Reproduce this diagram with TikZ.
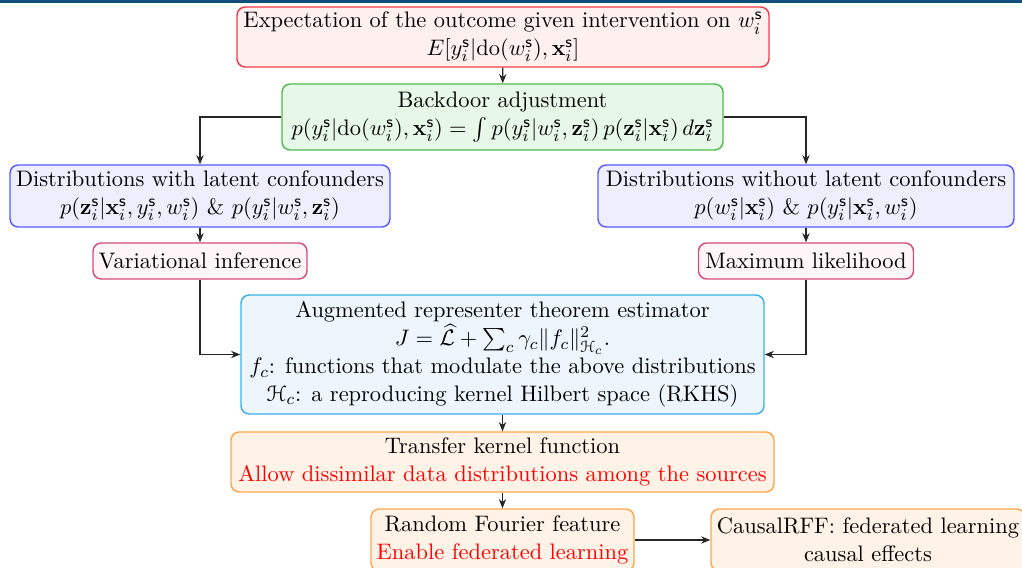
\documentclass[tikz,border=0pt]{standalone}
\usepackage{amsmath,amssymb}
\usepackage[mathscr]{eucal}
\usetikzlibrary{arrows.meta}
\definecolor{barblue}{HTML}{0E4F7B}
\definecolor{redE}{HTML}{EE3B45}
\definecolor{redF}{HTML}{FFF0F0}
\definecolor{greenE}{HTML}{4CBB4C}
\definecolor{greenF}{HTML}{E8F8E8}
\definecolor{blueE}{HTML}{5A5AF5}
\definecolor{blueF}{HTML}{EEEEFD}
\definecolor{purpE}{HTML}{D24D79}
\definecolor{purpF}{HTML}{FDF5F8}
\definecolor{cyanE}{HTML}{3AB0E6}
\definecolor{cyanF}{HTML}{EEF6FD}
\definecolor{orE}{HTML}{FFA64D}
\definecolor{orF}{HTML}{FFF2E6}
\newcommand\srcs{\mathsf{s}}
\begin{document}
\begin{tikzpicture}[x=0.488pt,y=-0.488pt,
  box/.style={rounded corners=4pt, line width=0.7pt, align=center, inner sep=0pt,
    font=\fontsize{10.95}{13.6}\selectfont},
  conn/.style={line width=0.55pt, black!85, -{Stealth[length=4.5pt,width=3.6pt]}}]
\useasboundingbox (0,0) rectangle (1022,568);
\clip (0,0) rectangle (1022,568);
\fill[barblue] (0,0) rectangle (1022,3);

\node[box, draw=redE, fill=redF, minimum width=532*0.488pt, minimum height=60*0.488pt] (b1) at (503,37)
  {Expectation of the outcome given intervention on $w_i^{\srcs}$\\ $E[y_i^{\srcs}|\mathrm{do}(w_i^{\srcs}),\mathbf{x}_i^{\srcs}]$};
\node[box, draw=greenE, fill=greenF, minimum width=441*0.488pt, minimum height=66*0.488pt] (b2) at (502.5,117)
  {Backdoor adjustment\\ $p(y_i^{\srcs}|\mathrm{do}(w_i^{\srcs}),\mathbf{x}_i^{\srcs}) = \int p(y_i^{\srcs}|w_i^{\srcs},\mathbf{z}_i^{\srcs})\, p(\mathbf{z}_i^{\srcs}|\mathbf{x}_i^{\srcs})\, d\mathbf{z}_i^{\srcs}$};
\node[box, draw=blueE, fill=blueF, minimum width=380*0.488pt, minimum height=62*0.488pt] (b3) at (200,196)
  {Distributions with latent confounders\\ $p(\mathbf{z}_i^{\srcs}|\mathbf{x}_i^{\srcs},y_i^{\srcs},w_i^{\srcs})$ \& $p(y_i^{\srcs}|w_i^{\srcs},\mathbf{z}_i^{\srcs})$};
\node[box, draw=blueE, fill=blueF, minimum width=416*0.488pt, minimum height=62*0.488pt] (b4) at (806,196)
  {Distributions without latent confounders\\ $p(w_i^{\srcs}|\mathbf{x}_i^{\srcs})$ \& $p(y_i^{\srcs}|\mathbf{x}_i^{\srcs},w_i^{\srcs})$};
\node[box, draw=purpE, fill=purpF, minimum width=214*0.488pt, minimum height=36*0.488pt] (b5) at (200,261)
  {Variational inference};
\node[box, draw=purpE, fill=purpF, minimum width=215*0.488pt, minimum height=36*0.488pt] (b6) at (806,261)
  {Maximum likelihood};
\node[box, draw=cyanE, fill=cyanF, minimum width=523*0.488pt, minimum height=119*0.488pt] (b7) at (502.5,354.5)
  {Augmented representer theorem estimator\\ $J=\widehat{\mathcal{L}}+\sum_c\gamma_c\|f_c\|^2_{\mathscr{H}_c}.$\\ $f_c$: functions that modulate the above distributions\\ $\mathscr{H}_c$: a reproducing kernel Hilbert space (RKHS)};
\node[box, draw=orE, fill=orF, minimum width=543*0.488pt, minimum height=60*0.488pt] (b8) at (502.5,462)
  {Transfer kernel function\\ \textcolor{red}{Allow dissimilar data distributions among the sources}};
\node[box, draw=orE, fill=orF, minimum width=263*0.488pt, minimum height=62*0.488pt] (b9) at (502.5,540)
  {Random Fourier feature\\ \textcolor{red}{Enable federated learning}};
\node[box, draw=orE, fill=orF, minimum width=314*0.488pt, minimum height=62*0.488pt] (b10) at (868,540)
  {CausalRFF: federated learning\\ causal effects};

\draw[conn] (b1) -- (b2);
\draw[conn] (b2.west) -| (b3.north);
\draw[conn] (b2.east) -| (b4.north);
\draw[conn] (b3) -- (b5);
\draw[conn] (b4) -- (b6);
\draw[conn] (b5.south) |- (b7.west);
\draw[conn] (b6.south) |- (b7.east);
\draw[conn] (b7) -- (b8);
\draw[conn] (b8) -- (b9);
\draw[conn] (b9) -- (b10);
\end{tikzpicture}
\end{document}
